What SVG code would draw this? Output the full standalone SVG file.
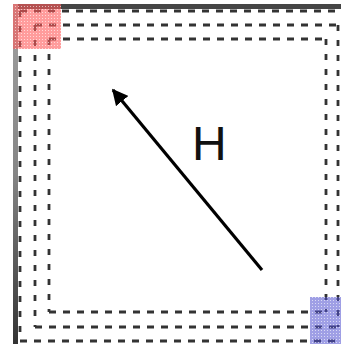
<svg xmlns="http://www.w3.org/2000/svg" width="341" height="344" viewBox="0 0 341 344">
<defs>
<linearGradient id="leftBand" x1="0" y1="0" x2="0" y2="1">
<stop offset="0" stop-color="#a0a0a0"/>
<stop offset="0.5" stop-color="#858585"/>
<stop offset="1" stop-color="#333333"/>
</linearGradient>
<pattern id="redDots" width="3" height="3" patternUnits="userSpaceOnUse">
<rect width="3" height="3" fill="#ff5a5a" fill-opacity="0.6"/>
<rect width="1" height="1" fill="#ffffff" fill-opacity="0.6"/>
</pattern>
<pattern id="blueDots" width="3" height="3" patternUnits="userSpaceOnUse">
<rect width="3" height="3" fill="#5050d0" fill-opacity="0.55"/>
<rect width="1" height="1" fill="#ffffff" fill-opacity="0.6"/>
</pattern>
<marker id="head" viewBox="0 0 10 10" refX="9" refY="5" markerWidth="5" markerHeight="5" orient="auto" markerUnits="strokeWidth">
<path d="M0,0 L10,5 L0,10 z" fill="#000"/>
</marker>
<style>
.dash{fill:none;stroke:#333;stroke-width:2.8;stroke-dasharray:7 7}
.dashv{fill:none;stroke:#333;stroke-width:2.8;stroke-dasharray:6 9}
</style>
</defs>
<rect width="341" height="344" fill="#ffffff"/>
<g id="border">
<rect x="13" y="4" width="328" height="5" fill="#454545"/>
<rect x="13" y="4" width="5" height="340" fill="url(#leftBand)"/>
</g>
<g id="outer-loop">
<path class="dash" d="M20,11 H341"/>
<path class="dashv" d="M20,11 V341"/>
<path class="dash" d="M20,341 H341"/>
</g>
<g id="middle-loop">
<path class="dash" d="M35,25 H338"/>
<path class="dashv" d="M35,25 V327"/>
<path class="dash" d="M35,327 H338"/>
<path class="dashv" d="M338,25 V327"/>
</g>
<g id="inner-loop">
<path class="dash" d="M49,39 H326"/>
<path class="dashv" d="M49,39 V312"/>
<path class="dash" d="M49,312 H326"/>
<path class="dashv" d="M326,39 V312"/>
</g>
<g id="start-cell">
<rect x="13" y="4" width="48" height="45" fill="url(#redDots)"/>
</g>
<g id="end-cell">
<rect x="310" y="297" width="31" height="47" fill="url(#blueDots)"/>
</g>
<g id="connectors">
<line x1="262" y1="270" x2="113" y2="90" stroke="#000" stroke-width="3.2" marker-end="url(#head)"/>
</g>
<g id="label">
<text x="192" y="160" font-family="Liberation Sans, Arial, sans-serif" font-size="48" fill="#111">H</text>
</g>
</svg>
